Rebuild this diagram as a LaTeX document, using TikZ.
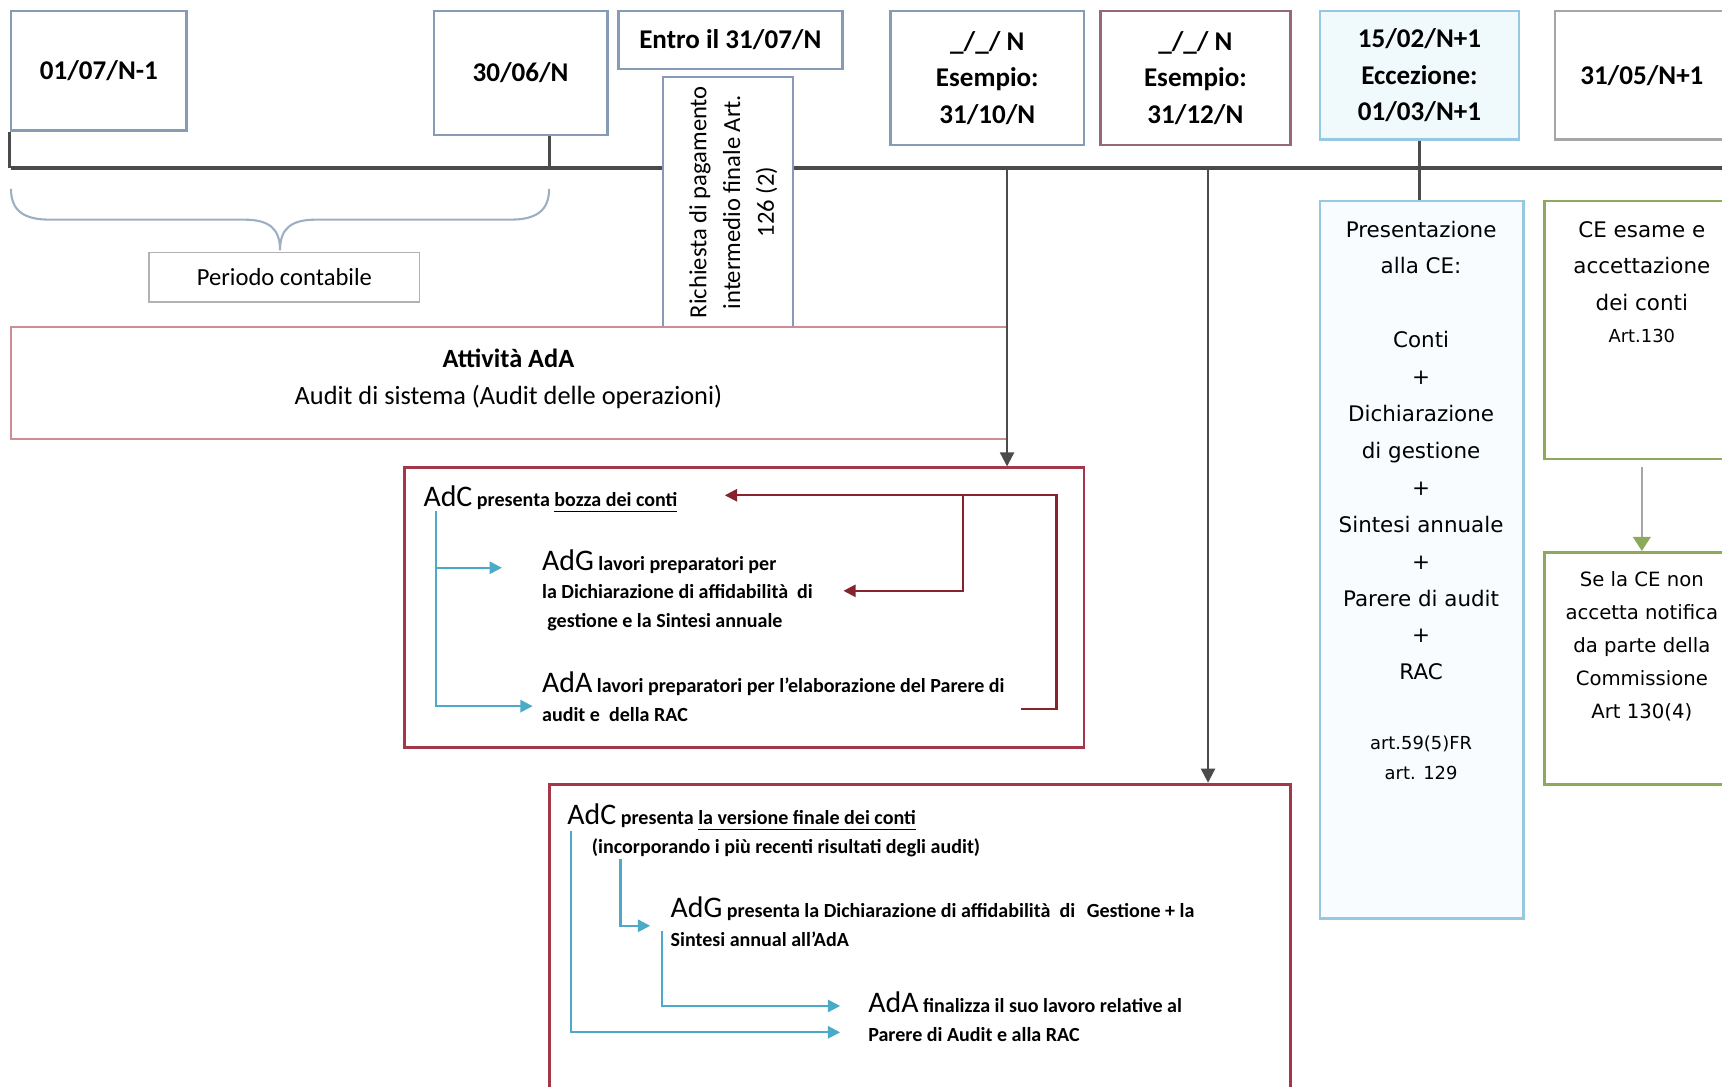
\documentclass[tikz,border=0pt]{standalone}
\usepackage{fontspec}
\setmainfont{Carlito}
\newfontfamily\verd{DejaVu Sans}
\usetikzlibrary{arrows.meta,fit}

\definecolor{boxgray}{RGB}{135,155,180}
\definecolor{mauve}{RGB}{150,105,115}
\definecolor{skyline}{RGB}{150,200,225}
\definecolor{skyfill}{RGB}{240,250,253}
\definecolor{tlgray}{RGB}{75,75,75}
\definecolor{pinkline}{RGB}{205,140,150}
\definecolor{redbox}{RGB}{165,55,75}
\definecolor{redline}{RGB}{135,35,45}
\definecolor{cyanline}{RGB}{75,170,200}
\definecolor{greenline}{RGB}{140,170,90}

\newcommand\bigtag[1]{{\mdseries\fontsize{8.5}{8.5}\selectfont #1}}

\tikzset{
  datebox/.style={draw=boxgray, line width=0.7pt, fill=white, inner sep=0pt},
  datetxt/.style={inner sep=0pt, align=center, font=\bfseries\fontsize{7.7}{10.4}\selectfont},
  plainbox/.style={draw=gray!60, line width=0.5pt, fill=white, inner sep=0pt},
  pinkbox/.style={draw=pinkline, line width=0.6pt, inner sep=0pt},
  redframe/.style={draw=redbox, line width=0.8pt, fill=white, inner sep=0pt},
  presbox/.style={draw=skyline, line width=0.8pt, fill=skyfill!50, inner sep=0pt},
  greenbox/.style={draw=greenline, line width=0.8pt, fill=white, inner sep=0pt},
  smalltxt/.style={inner sep=0pt, align=left, font=\bfseries\fontsize{5.7}{8}\selectfont},
  verdtxt/.style={inner sep=0pt, align=center, font=\verd\fontsize{6.1}{10.5}\selectfont},
  timeline/.style={draw=tlgray, line width=0.9pt},
  blackarrow/.style={draw=tlgray, line width=0.6pt, -{Triangle[length=4pt,width=4pt]}},
  bluearrow/.style={draw=cyanline, line width=0.6pt, -{Triangle[length=3.5pt,width=3.5pt]}},
  redarrow/.style={draw=redline, line width=0.6pt, -{Triangle[length=3.5pt,width=3.5pt]}},
  greenarrow/.style={draw=gray!70, line width=0.6pt, -{Triangle[length=4pt,width=5pt,color=greenline]}}
}

\begin{document}
\begin{tikzpicture}[x=0.010982cm, y=-0.010982cm]
  \clip (0,0) rectangle (1568,989);

  % timeline
  \coordinate (tlL) at (10,153);
  \coordinate (tlR) at (1568,153);
  \draw[timeline] (tlL) -- (tlR);

  % dates
  \node[datebox, fit={(10,10) (170,119)}] (d1) {};
  \node[datebox, fit={(395,10) (553,123)}] (d2) {};
  \node[datebox, fit={(563,10) (767,63)}] (d3) {};
  \node[datebox, fit={(811,10) (987,132)}] (d4) {};
  \node[datebox, draw=mauve, fit={(1002,10) (1175,132)}] (d5) {};
  \node[datebox, draw=skyline, fill=skyfill, fit={(1202,10) (1383,127)}] (d6) {};
  \node[datebox, draw=gray!70, fit={(1416,10) (1574,127)}] (d7) {};
  \node[datetxt] at (d1) {01/07/N-1};
  \node[datetxt] at (d2) {30/06/N};
  \node[datetxt] at (d3) {Entro il 31/07/N};
  \node[datetxt] at (d4) {\_/\_/ N\\Esempio:\\31/10/N};
  \node[datetxt] at (d5) {\_/\_/ N\\Esempio:\\31/12/N};
  \node[datetxt] at (d6) {15/02/N+1\\Eccezione:\\01/03/N+1};
  \node[datetxt] at (d7) {31/05/N+1};

  \draw[timeline] (d1.south west) -- (d1.south west |- tlL);
  \coordinate (t2) at (500,153);
  \draw[timeline] (d2.south -| t2) -- (t2);

  % payment request
  \node[datebox, line width=0.6pt, fit={(604,70) (722,298)}] (rich) {};
  \node[rotate=90, align=center, font=\fontsize{7}{9.6}\selectfont] at ([xshift=1.5pt]rich.center)
    {Richiesta di pagamento\\intermedio finale Art.\\126 (2)};

  % accounting period
  \draw[draw=boxgray!80, line width=0.6pt] (10,172) .. controls (10,192) and (22,200) .. (45,200)
    -- (222,200) .. controls (245,200) and (255,208) .. (255,228)
    .. controls (255,208) and (265,200) .. (288,200) -- (465,200)
    .. controls (488,200) and (500,192) .. (500,172);
  \node[plainbox, fit={(136,230) (382,275)}] (per) {};
  \node[font=\fontsize{7}{8}\selectfont] at (per) {Periodo contabile};

  % audit activity
  \node[pinkbox, fit={(10,298) (917,400)}] (att) {};
  \node[align=center, font=\fontsize{7.5}{10.3}\selectfont] at (463,345)
    {\textbf{Attività AdA}\\Audit di sistema (Audit delle operazioni)};

  % draft accounts
  \node[redframe, fit={(368,426) (987,681)}] (bozza) {};
  \coordinate (t3) at (917,153);
  \draw[blackarrow] (t3) -- (t3 |- bozza.north);

  \node[smalltxt, anchor=base west] (adc1) at (385,461)
    {\bigtag{AdC} presenta \underline{bozza dei conti}};
  \node[smalltxt, anchor=base west] (adg1) at (493,571)
    {\bigtag{AdG} lavori preparatori per\\la Dichiarazione di affidabilità~ di\\\hspace{1.5pt}gestione e la Sintesi annuale};
  \node[smalltxt, anchor=base west, font=\bfseries\fontsize{5.7}{8.2}\selectfont] (ada1) at (493,657)
    {\bigtag{AdA} lavori preparatori per l’elaborazione del Parere di\\audit e~ della RAC};

  \coordinate (b0) at (397,465);
  \coordinate (b1) at (457,517);
  \coordinate (b2) at (485,643);
  \draw[bluearrow] (b0) |- (b2);
  \draw[bluearrow] (b0 |- b1) -- (b1);

  \coordinate (r0) at (930,646);
  \coordinate (r1) at (962,451);
  \coordinate (r2) at (660,451);
  \coordinate (r3) at (877,451);
  \coordinate (r4) at (768,538);
  \draw[redarrow] (r0) -| (r1) -- (r2);
  \draw[redarrow] (r3) |- (r4);

  % final accounts
  \node[redframe, fit={(500,714) (1175,1000)}] (fin) {};
  \coordinate (t4) at (1100,153);
  \draw[blackarrow] (t4) -- (t4 |- fin.north);

  \node[smalltxt, anchor=base west, font=\bfseries\fontsize{5.7}{8.2}\selectfont] (adc2) at (516,777)
    {\bigtag{AdC} presenta \underline{la versione finale dei conti}\\\hspace{7pt}(incorporando i più recenti risultati degli audit)};
  \node[smalltxt, anchor=base west, font=\bfseries\fontsize{5.7}{8.2}\selectfont] (adg2) at (610,862)
    {\bigtag{AdG} presenta la Dichiarazione di affidabilità~ di \hspace{2pt}Gestione + la\\Sintesi annual all’AdA};
  \node[smalltxt, anchor=base west, font=\bfseries\fontsize{5.7}{8.2}\selectfont] (ada2) at (790,948)
    {\bigtag{AdA} finalizza il suo lavoro relative al\\Parere di Audit e alla RAC};

  \coordinate (f0) at (520,757);
  \coordinate (f1) at (765,940);
  \coordinate (g0) at (565,782);
  \coordinate (g1) at (592,843);
  \coordinate (h0) at (603,848);
  \coordinate (h1) at (765,916);
  \draw[bluearrow] (f0) |- (f1);
  \draw[bluearrow] (g0) |- (g1);
  \draw[bluearrow] (h0) |- (h1);

  % submission to the Commission
  \node[presbox, fit={(1202,183) (1387,836)}] (pres) {};
  \draw[timeline] (d6.south) -- (d6.south |- pres.north);
  \node[verdtxt, anchor=base] (prestxt) at (1294,619)
    {Presentazione\\alla CE:\\[10.5pt]Conti\\+\\Dichiarazione\\di gestione\\+\\Sintesi annuale\\+\\Parere di audit\\+\\RAC};
  \node[verdtxt, anchor=base, font=\verd\fontsize{5.1}{8.5}\selectfont] (artpres) at (1294,710)
    {art.59(5)FR\\art. 129};

  \node[greenbox, fit={(1406,183) (1584,418)}] (ceesame) {};
  \node[verdtxt, anchor=base] (cetxt) at (1495,283) {CE esame e\\accettazione\\dei conti};
  \node[verdtxt, anchor=base, font=\verd\fontsize{5.1}{8.5}\selectfont] at (1495,312) {Art.130};

  \node[greenbox, fit={(1406,503) (1584,714)}] (cenon) {};
  \draw[greenarrow] ([yshift=-2pt]ceesame.south) -- (cenon.north);
  \node[verdtxt, anchor=base, font=\verd\fontsize{5.6}{9.4}\selectfont] (nontxt) at (1495,654)
    {Se la CE non\\accetta notifica\\da parte della\\Commissione\\Art 130(4)};
\end{tikzpicture}
\end{document}
